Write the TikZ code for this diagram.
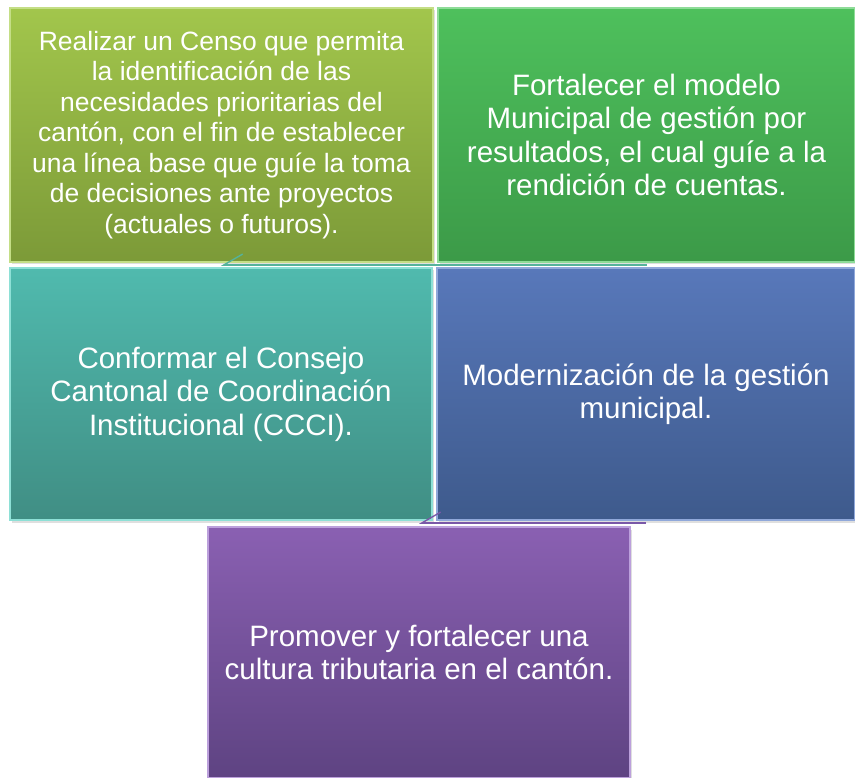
\documentclass[tikz,border=0pt]{standalone}
\usepackage{fontspec}
\setmainfont{Liberation Sans}
\usepackage{xcolor}
\usepackage{tikz}
\usetikzlibrary{arrows.meta,shadows,backgrounds}
\definecolor{olivetop}{HTML}{A2C64C}
\definecolor{olivebot}{HTML}{7C9A38}
\definecolor{olivrim}{HTML}{C4DE86}
\definecolor{greentop}{HTML}{4EC05C}
\definecolor{greenbot}{HTML}{3C9A48}
\definecolor{greenrim}{HTML}{8EDC98}
\definecolor{tealtop}{HTML}{50BAAE}
\definecolor{tealbot}{HTML}{408E84}
\definecolor{tealrim}{HTML}{8EE0D6}
\definecolor{bluetop}{HTML}{5878BA}
\definecolor{bluebot}{HTML}{3E5A8C}
\definecolor{bluerim}{HTML}{90A8DA}
\definecolor{purptop}{HTML}{8A60B2}
\definecolor{purpbot}{HTML}{5E4382}
\definecolor{purprim}{HTML}{BCA0DC}
\definecolor{linkteal}{HTML}{55B39C}
\definecolor{linkpurp}{HTML}{7A58A8}
\tikzset{
  box/.style={rectangle, line width=1.2pt, text=white, align=center,
    inner sep=4pt, drop shadow={shadow xshift=1.5pt, shadow yshift=-2.5pt, opacity=0.25}},
  big/.style={font=\fontsize{29.5}{33.5}\selectfont},
  small/.style={font=\fontsize{26.5}{30.5}\selectfont},
  link/.style={line width=1.4pt, -{Straight Barb[harpoon,swap,length=19pt,width=22pt,line width=1.4pt]}}
}

\begin{document}
\begin{tikzpicture}[x=1pt,y=-1pt]
  \useasboundingbox (0,0) rectangle (855,778);

  % upper row
  \node[box, small, minimum width=423pt, minimum height=254pt,
        top color=olivetop, bottom color=olivebot, draw=olivrim] (censo) at (221.5,135)
    {Realizar un Censo que permita\\la identificación de las\\necesidades prioritarias del\\cantón, con el fin de establecer\\una línea base que guíe la toma\\de decisiones ante proyectos\\(actuales o futuros).};
  \node[box, big, minimum width=417pt, minimum height=254pt,
        top color=greentop, bottom color=greenbot, draw=greenrim] (modelo) at (646.5,135)
    {Fortalecer el modelo\\Municipal de gestión por\\resultados, el cual guíe a la\\rendición de cuentas.};

  % middle row
  \node[box, big, minimum width=422pt, minimum height=252pt,
        top color=tealtop, bottom color=tealbot, draw=tealrim] (consejo) at (221,394)
    {Conformar el Consejo\\Cantonal de Coordinación\\Institucional (CCCI).};
  \node[box, big, minimum width=418pt, minimum height=252pt,
        top color=bluetop, bottom color=bluebot, draw=bluerim] (moderno) at (646,394)
    {Modernización de la gestión\\municipal.};

  % lower row
  \node[box, big, minimum width=422pt, minimum height=251pt,
        top color=purptop, bottom color=purpbot, draw=purprim] (cultura) at (419,652.5)
    {Promover y fortalecer una\\cultura tributaria en el cantón.};

  % connectors
  \draw[link, draw=linkteal] ([yshift=-2.5pt]modelo.south) -- ([yshift=-2.5pt]modelo.south -| consejo.north);
  \draw[link, draw=linkpurp] ([yshift=-2.5pt]moderno.south) -- ([yshift=-2.5pt]moderno.south -| cultura.north);
\end{tikzpicture}
\end{document}
